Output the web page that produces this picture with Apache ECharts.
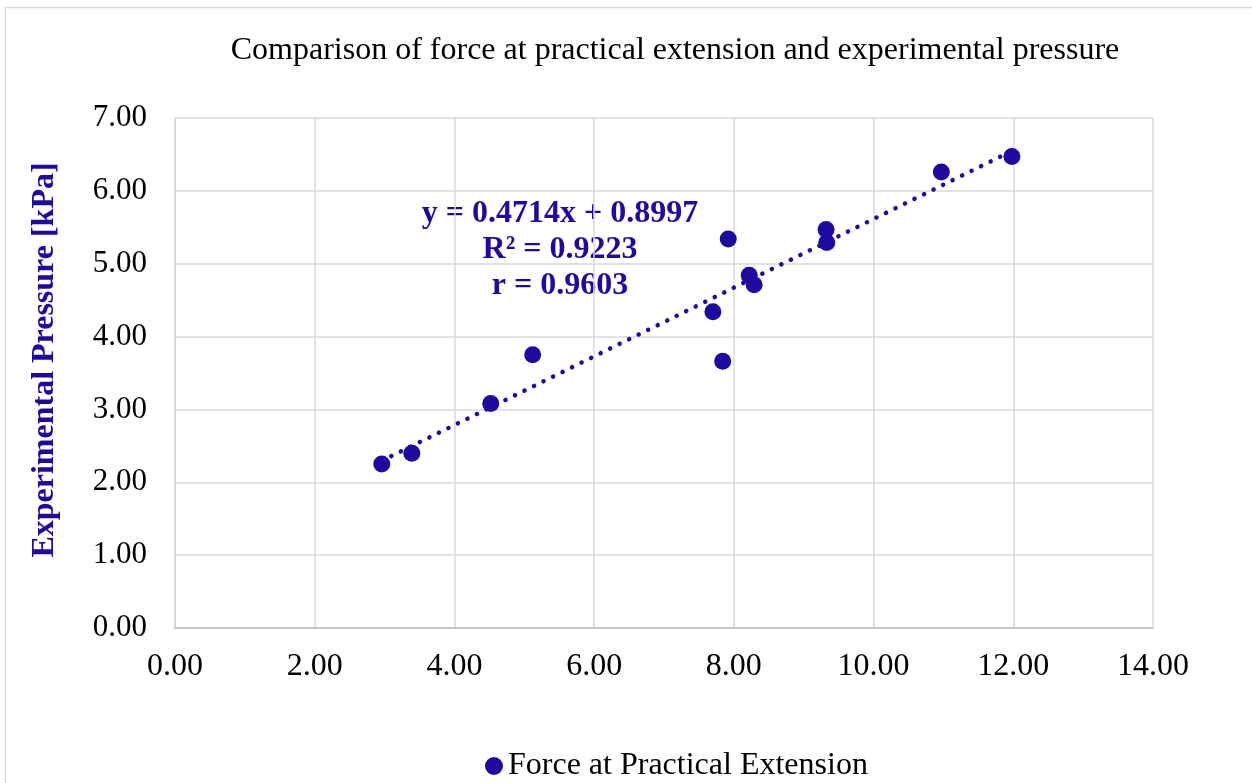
<!DOCTYPE html>
<html lang="en">

<head>
  <meta charset="UTF-8">
  <title>Force vs pressure</title>
  <script src="https://cdn.jsdelivr.net/npm/echarts@6/dist/echarts.min.js"></script>
  <style>
    html, body { margin: 0; padding: 0; background: #fff; }
  </style>
</head>

<body>
  <div id="chart" style="width: 1252px;height: 783px;"></div>

  <script>
    var mCharts = echarts.init(document.getElementById('chart'))

    // data
    var forceX = [2.96, 3.39, 4.52, 5.12, 7.70, 7.84, 7.92, 8.22, 8.29, 9.32, 9.33, 10.97, 11.98]
    var pressureY = [2.25, 2.40, 3.08, 3.75, 4.34, 3.66, 5.34, 4.84, 4.71, 5.47, 5.29, 6.26, 6.47]
    var xTicks = [0, 2, 4, 6, 8, 10, 12, 14]
    var yTicks = [0, 1, 2, 3, 4, 5, 6, 7]

    // trendline from the equation shown on the chart
    var slope = 0.4714
    var intercept = 0.8997
    var eqLines = ['y = 0.4714x + 0.8997', 'R² = 0.9223', 'r = 0.9603']

    var blue = '#1f0aa0'
    var font = '"Liberation Serif", "DejaVu Serif", serif'

    var points = forceX.map(function (x, i) { return [x, pressureY[i]] })
    var xMin = Math.min.apply(null, forceX)
    var xMax = Math.max.apply(null, forceX)
    var trend = [[xMin, slope * xMin + intercept], [xMax, slope * xMax + intercept]]

    var option = {
      backgroundColor: '#fff',
      animation: false,
      title: {
        text: 'Comparison of force at practical extension and experimental pressure',
        left: 670,
        top: 30,
        textAlign: 'center',
        textStyle: { fontFamily: font, fontSize: 32, fontWeight: 'normal', color: '#000' }
      },
      legend: {
        top: 745,
        left: 480,
        data: ['Force at Practical Extension'],
        icon: 'circle',
        itemWidth: 18,
        itemHeight: 18,
        itemGap: 4,
        textStyle: { fontFamily: font, fontSize: 32, color: '#000' }
      },
      grid: { left: 175, right: 99, top: 118, bottom: 155 },
      xAxis: {
        type: 'value',
        min: xTicks[0],
        max: xTicks[xTicks.length - 1],
        interval: 2,
        axisLine: { show: true, lineStyle: { color: '#bfbfbf', width: 1.5 } },
        axisTick: { show: false },
        splitLine: { show: true, lineStyle: { color: '#d9d9d9', width: 1.5 } },
        axisLabel: {
          margin: 23,
          fontFamily: font, fontSize: 32, color: '#000',
          formatter: function (v) { return v.toFixed(2) }
        }
      },
      yAxis: {
        type: 'value',
        min: yTicks[0],
        max: yTicks[yTicks.length - 1],
        interval: 1,
        name: 'Experimental Pressure [kPa]',
        nameLocation: 'middle',
        nameGap: 114,
        nameTextStyle: {
          fontFamily: font, fontSize: 32, fontWeight: 'bold', color: blue,
          padding: [0, 0, 0, 26]
        },
        axisLine: { show: true, lineStyle: { color: '#d9d9d9', width: 1.5 } },
        axisTick: { show: false },
        splitLine: { show: true, lineStyle: { color: '#d9d9d9', width: 1.5 } },
        axisLabel: {
          margin: 28,
          fontFamily: font, fontSize: 31, color: '#000',
          formatter: function (v) { return v.toFixed(2) }
        }
      },
      graphic: [
        {
          type: 'rect',
          left: 3, top: 5,
          shape: { width: 1248, height: 790 },
          style: { fill: 'none', stroke: '#d9d9d9', lineWidth: 1.5 },
          silent: true
        },
        {
          type: 'text',
          x: 560,
          y: 250,
          style: {
            text: eqLines.join('\n'),
            align: 'center',
            verticalAlign: 'middle',
            fill: blue,
            font: 'bold 32px ' + font,
            lineHeight: 36
          }
        }
      ],
      series: [
        {
          name: 'Force at Practical Extension',
          type: 'scatter',
          symbolSize: 17,
          itemStyle: { color: blue, opacity: 1 },
          data: points,
          z: 3
        },
        {
          name: 'trend',
          type: 'line',
          data: trend,
          symbol: 'none',
          lineStyle: { color: blue, width: 4.5, type: [0.1, 10.5], cap: 'round' },
          z: 2
        }
      ]
    }
    mCharts.setOption(option)
  </script>
</body>

</html>
